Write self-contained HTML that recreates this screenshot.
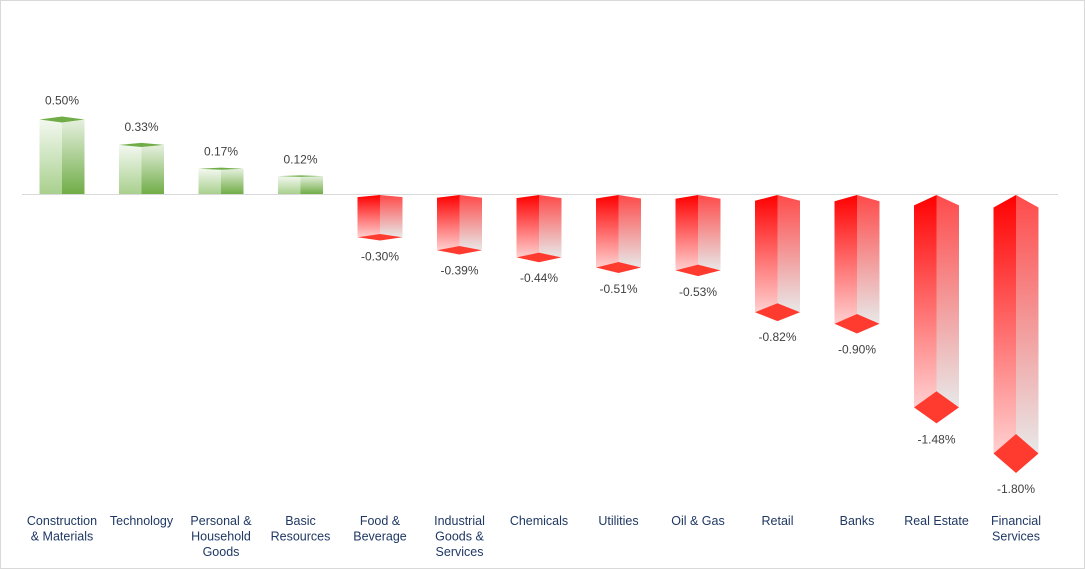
<!DOCTYPE html>
<html><head><meta charset="utf-8"><style>
html,body{margin:0;padding:0;background:#fff}
svg{display:block}
text{font-family:"Liberation Sans",sans-serif;fill:#404040}
</style></head><body>
<svg id="s" width="1085" height="569" xmlns="http://www.w3.org/2000/svg">
<defs>
<linearGradient id="gL" x1="0" y1="0" x2="0" y2="1"><stop offset="0" stop-color="#f3f8f0"/><stop offset="1" stop-color="#a9d08e"/></linearGradient>
<linearGradient id="gR" x1="0" y1="0" x2="0" y2="1"><stop offset="0" stop-color="#e6f0df"/><stop offset="1" stop-color="#70ad47"/></linearGradient>
<linearGradient id="rL" x1="0" y1="0" x2="0" y2="1"><stop offset="0" stop-color="#ff0000"/><stop offset="1" stop-color="#ffd0d0"/></linearGradient>
<linearGradient id="rR" x1="0" y1="0" x2="0" y2="1"><stop offset="0" stop-color="#ff4a4a"/><stop offset="1" stop-color="#e8e8e8"/></linearGradient>
</defs>
<rect x="0.5" y="0.5" width="1084" height="568" fill="#fff" stroke="#d9d9d9"/>
<line x1="22" y1="194.5" x2="1058" y2="194.5" stroke="#d9d9d9" stroke-width="1"/>
<g id="g"></g>
</svg>
<script>
var d=[["Construction|& Materials",0.50],["Technology",0.33],["Personal &|Household|Goods",0.17],["Basic|Resources",0.12],["Food &|Beverage",-0.30],["Industrial|Goods &|Services",-0.39],["Chemicals",-0.44],["Utilities",-0.51],["Oil & Gas",-0.53],["Retail",-0.82],["Banks",-0.90],["Real Estate",-1.48],["Financial|Services",-1.80]];
var h="",base=194,sc=155;
d.forEach(function(e,i){
 var c=62+i*79.5,l=c-22.5,r=c+22.5,v=e[1],len=Math.abs(v)*sc;
 if(v>0){
  var t=base-len, ch=Math.min(6,len*0.08);
  h+='<polygon points="'+l+','+(t+ch/2)+' '+c+','+(t+ch)+' '+c+','+base+' '+l+','+base+'" fill="url(#gL)"/>';
  h+='<polygon points="'+c+','+(t+ch)+' '+r+','+(t+ch/2)+' '+r+','+base+' '+c+','+base+'" fill="url(#gR)"/>';
  h+='<polygon points="'+l+','+(t+ch/2)+' '+c+','+t+' '+r+','+(t+ch/2)+' '+c+','+(t+ch)+'" fill="#70ad47"/>';
  h+='<text x="'+c+'" y="'+(t-12)+'" font-size="12" text-anchor="middle">'+v.toFixed(2)+'%</text>';
 }else{
  var b=base+len, dh=len*0.14, td=len*0.045;
  var top=base+1;
  h+='<polygon points="'+l+','+(top+td)+' '+c+','+top+' '+c+','+(b-dh)+' '+l+','+(b-dh/2)+'" fill="url(#rL)"/>';
  h+='<polygon points="'+c+','+top+' '+r+','+(top+td)+' '+r+','+(b-dh/2)+' '+c+','+(b-dh)+'" fill="url(#rR)"/>';
  h+='<polygon points="'+l+','+(b-dh/2)+' '+c+','+(b-dh)+' '+r+','+(b-dh/2)+' '+c+','+b+'" fill="#ff3b30"/>';
  h+='<text x="'+c+'" y="'+(b+20)+'" font-size="12" text-anchor="middle">'+v.toFixed(2)+'%</text>';
 }
 e[0].split("|").forEach(function(s,j){
  h+='<text x="'+c+'" y="'+(525+j*15.5)+'" font-size="12.5" text-anchor="middle" fill="#1f3864" style="fill:#1f3864">'+s.replace(/&/g,"&amp;")+'</text>';
 });
});
document.getElementById("g").innerHTML=h;
</script>
</body></html>
